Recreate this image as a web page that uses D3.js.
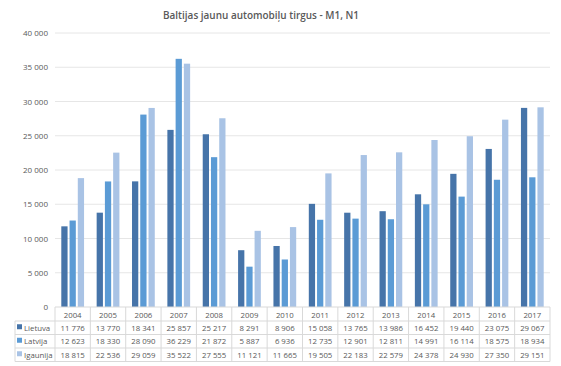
<!DOCTYPE html>
<html><head><meta charset="utf-8">
<script src="https://cdn.jsdelivr.net/npm/d3@7"></script>
<style>body{margin:0;background:#fff}svg{display:block}text{font-family:"Open Sans",sans-serif}</style>
</head><body>
<script>
const years = ["2004","2005","2006","2007","2008","2009","2010","2011","2012","2013","2014","2015","2016","2017"];
const seriesNames = ["Lietuva","Latvija","Igaunija"];
const lietuva = [11776,13770,18341,25857,25217,8291,8906,15058,13765,13986,16452,19440,23075,29067];
const latvija = [12623,18330,28090,36229,21872,5887,6936,12735,12901,12811,14991,16114,18575,18934];
const igaunija = [18815,22536,29059,35522,27555,11121,11665,19505,22183,22579,24378,24930,27350,29151];
const yTicks = [0,5000,10000,15000,20000,25000,30000,35000,40000];
const colors = ["#4674A9","#5B9BD5","#A9C3E5"];
const title = "Baltijas jaunu automobiļu tirgus - M1, N1";

const series = [lietuva, latvija, igaunija];
const W = 561, H = 366;
const fmt = v => d3.format(",")(v).replace(/,/g, " ");
const svg = d3.select("body").append("svg").attr("width", W).attr("height", H);

const x = d3.scaleBand().domain(years).range([55, 550]);
const y = d3.scaleLinear().domain([0, 40000]).range([307, 33]);
const xs = d3.scaleBand().domain([0,1,2]).range([6.3, x.bandwidth() - 6.3]).paddingInner(0.24);

svg.append("text").attr("x", 261).attr("y", 19).attr("text-anchor", "middle")
  .attr("font-size", 11).attr("font-weight", 600).attr("fill", "#595959")
  .attr("textLength", 196).attr("lengthAdjust", "spacingAndGlyphs").text(title);

// grid
svg.append("g").selectAll("line").data(yTicks.slice(1)).join("line")
  .attr("x1", 55).attr("x2", 550).attr("y1", d => y(d)).attr("y2", d => y(d))
  .attr("stroke", "#e6e6e6").attr("stroke-width", 1);

const yAxis = d3.axisLeft(y).tickValues(yTicks).tickSize(0).tickPadding(7).tickFormat(fmt);
const gy = svg.append("g").attr("transform", "translate(55,0)").call(yAxis);
gy.select(".domain").remove();
gy.selectAll("text").attr("font-size", 8).attr("fill", "#595959").attr("font-family", "Open Sans, sans-serif");

// bars
series.forEach((s, i) => {
  svg.append("g").selectAll("rect").data(years).join("rect")
    .attr("x", d => x(d) + xs(i)).attr("width", xs.bandwidth())
    .attr("y", (d, j) => y(s[j])).attr("height", (d, j) => y(0) - y(s[j]))
    .attr("fill", colors[i]);
});

// table
const rowTops = [307, 321, 334.5, 348, 361.5];
const g = svg.append("g").attr("stroke", "#d9d9d9").attr("stroke-width", 1);
rowTops.forEach((t, k) => {
  g.append("line").attr("x1", k === 0 ? 55 : 15).attr("x2", 550).attr("y1", t).attr("y2", t);
});
const bounds = years.map(d => x(d)).concat([x.range()[1]]);
bounds.forEach(b => g.append("line").attr("x1", b).attr("x2", b).attr("y1", 307).attr("y2", 361.5));
g.append("line").attr("x1", 15).attr("x2", 15).attr("y1", 321).attr("y2", 361.5);

svg.append("g").selectAll("text").data(years).join("text")
  .attr("x", d => x(d) + x.bandwidth()/2).attr("y", 317.5).attr("text-anchor", "middle")
  .attr("font-size", 7.8).attr("fill", "#595959").text(d => d);

series.forEach((s, i) => {
  const cy = (rowTops[i+1] + rowTops[i+2]) / 2 + 3;
  svg.append("rect").attr("x", 17).attr("y", cy - 6.5).attr("width", 5).attr("height", 5).attr("fill", colors[i]);
  svg.append("text").attr("x", 24).attr("y", cy).attr("font-size", 7.8).attr("fill", "#595959").text(seriesNames[i]);
  svg.append("g").selectAll("text").data(years).join("text")
    .attr("x", d => x(d) + x.bandwidth()/2).attr("y", cy).attr("text-anchor", "middle")
    .attr("font-size", 7.8).attr("fill", "#595959").text((d, j) => fmt(s[j]));
});
</script>
</body></html>
